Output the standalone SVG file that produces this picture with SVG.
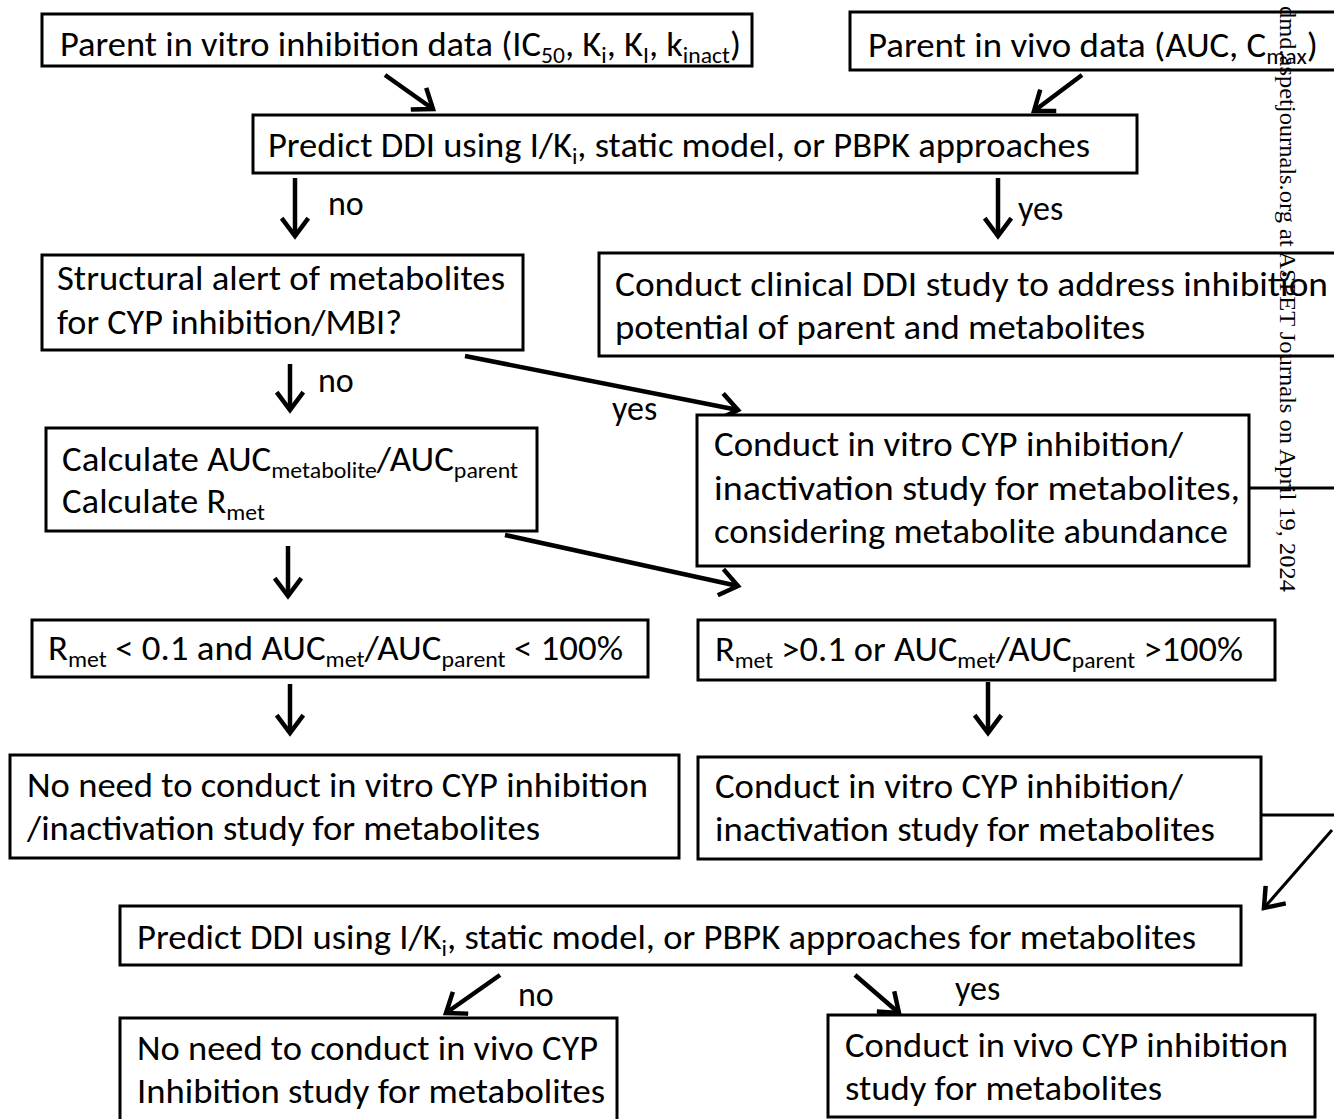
<svg xmlns="http://www.w3.org/2000/svg" width="1334" height="1119" viewBox="0 0 1334 1119">
<style>
.box{fill:#fff;stroke:#000;stroke-width:3}
.t{font-family:Carlito,'Liberation Sans Narrow','Liberation Sans',sans-serif;font-size:34px;fill:#000}
.s{font-size:22px}
.c{stroke:#000;stroke-width:4.5;fill:none}
.c3{stroke:#000;stroke-width:3;fill:none}
.wm{font-family:'Liberation Serif','Times New Roman',serif;font-size:24px;fill:#000}
</style>
<defs>
<marker id="ah" markerUnits="userSpaceOnUse" viewBox="-22 -15 26 30" refX="0" refY="0" markerWidth="26" markerHeight="30" orient="auto">
<path d="M-16,-12 L0,0 L-16,12" stroke="#000" stroke-width="4.5" fill="none" stroke-linecap="square"/>
</marker>
</defs>
<g id="connectors">
<line class="c" x1="385" y1="75" x2="433" y2="109" marker-end="url(#ah)"/>
<line class="c" x1="1082" y1="75" x2="1034" y2="111" marker-end="url(#ah)"/>
<line class="c" x1="295" y1="178" x2="295" y2="236" marker-end="url(#ah)"/>
<line class="c" x1="998" y1="178" x2="998" y2="236" marker-end="url(#ah)"/>
<line class="c" x1="290" y1="364" x2="290" y2="410" marker-end="url(#ah)"/>
<line class="c" x1="465" y1="356" x2="738" y2="410" marker-end="url(#ah)"/>
<line class="c" x1="288" y1="546" x2="288" y2="596" marker-end="url(#ah)"/>
<line class="c" x1="505" y1="535" x2="738" y2="586" marker-end="url(#ah)"/>
<line class="c" x1="290" y1="684" x2="290" y2="733" marker-end="url(#ah)"/>
<line class="c" x1="988" y1="682" x2="988" y2="733" marker-end="url(#ah)"/>
<line class="c3" x1="1249" y1="488" x2="1334" y2="488"/>
<line class="c3" x1="1261" y1="815" x2="1334" y2="815"/>
<line class="c3" x1="1332" y1="830" x2="1264" y2="908" marker-end="url(#ah)"/>
<line class="c" x1="500" y1="975" x2="446" y2="1013" marker-end="url(#ah)"/>
<line class="c" x1="855" y1="975" x2="899" y2="1013" marker-end="url(#ah)"/>
<text class="t" x="328" y="215">no</text>
<text class="t" x="1018" y="220">yes</text>
<text class="t" x="318" y="392">no</text>
<text class="t" x="612" y="420">yes</text>
<text class="t" x="518" y="1006">no</text>
<text class="t" x="955" y="1000">yes</text>
</g>
<g id="n1">
<rect class="box" x="42" y="14" width="710" height="52"/>
<text class="t" x="60" y="56" textLength="681" lengthAdjust="spacingAndGlyphs">Parent in vitro inhibition data (IC<tspan class="s" dy="7">50</tspan><tspan dy="-7">, K</tspan><tspan class="s" dy="7">i</tspan><tspan dy="-7">, K</tspan><tspan class="s" dy="7">I</tspan><tspan dy="-7">, k</tspan><tspan class="s" dy="7">inact</tspan><tspan dy="-7">)</tspan></text>
</g>
<g id="n2">
<rect class="box" x="850" y="12" width="500" height="58"/>
<text class="t" x="868" y="57" textLength="450" lengthAdjust="spacingAndGlyphs">Parent in vivo data (AUC, C<tspan class="s" dy="7">max</tspan><tspan dy="-7">)</tspan></text>
</g>
<g id="n3">
<rect class="box" x="253" y="115" width="884" height="58"/>
<text class="t" x="268" y="157" textLength="822" lengthAdjust="spacingAndGlyphs">Predict DDI using I/K<tspan class="s" dy="7">i</tspan><tspan dy="-7">, static model, or PBPK approaches</tspan></text>
</g>
<g id="n4">
<rect class="box" x="42" y="255" width="481" height="95"/>
<text class="t" x="57" y="290" textLength="448" lengthAdjust="spacingAndGlyphs">Structural alert of metabolites</text>
<text class="t" x="57" y="334" textLength="345" lengthAdjust="spacingAndGlyphs">for CYP inhibition/MBI?</text>
</g>
<g id="n5">
<rect class="box" x="599" y="253" width="750" height="103"/>
<text class="t" x="615" y="296" textLength="713" lengthAdjust="spacingAndGlyphs">Conduct clinical DDI study to address inhibition</text>
<text class="t" x="615" y="339" textLength="530" lengthAdjust="spacingAndGlyphs">potential of parent and metabolites</text>
</g>
<g id="n6">
<rect class="box" x="46" y="428" width="491" height="103"/>
<text class="t" x="62" y="471" textLength="456" lengthAdjust="spacingAndGlyphs">Calculate AUC<tspan class="s" dy="7">metabolite</tspan><tspan dy="-7">/AUC</tspan><tspan class="s" dy="7">parent</tspan></text>
<text class="t" x="62" y="513" textLength="203" lengthAdjust="spacingAndGlyphs">Calculate R<tspan class="s" dy="7">met</tspan></text>
</g>
<g id="n7">
<rect class="box" x="697" y="415" width="552" height="151"/>
<text class="t" x="714" y="456" textLength="469" lengthAdjust="spacingAndGlyphs">Conduct in vitro CYP inhibition/</text>
<text class="t" x="714" y="500" textLength="526" lengthAdjust="spacingAndGlyphs">inactivation study for metabolites,</text>
<text class="t" x="714" y="543" textLength="514" lengthAdjust="spacingAndGlyphs">considering metabolite abundance</text>
</g>
<g id="n8">
<rect class="box" x="32" y="620" width="616" height="57"/>
<text class="t" x="48" y="660" textLength="575" lengthAdjust="spacingAndGlyphs">R<tspan class="s" dy="7">met</tspan><tspan dy="-7"> &lt; 0.1 and AUC</tspan><tspan class="s" dy="7">met</tspan><tspan dy="-7">/AUC</tspan><tspan class="s" dy="7">parent</tspan><tspan dy="-7"> &lt; 100%</tspan></text>
</g>
<g id="n9">
<rect class="box" x="698" y="620" width="577" height="60"/>
<text class="t" x="715" y="661" textLength="528" lengthAdjust="spacingAndGlyphs">R<tspan class="s" dy="7">met</tspan><tspan dy="-7"> &gt;0.1 or AUC</tspan><tspan class="s" dy="7">met</tspan><tspan dy="-7">/AUC</tspan><tspan class="s" dy="7">parent</tspan><tspan dy="-7"> &gt;100%</tspan></text>
</g>
<g id="n10">
<rect class="box" x="10" y="755" width="669" height="103"/>
<text class="t" x="27" y="797" textLength="621" lengthAdjust="spacingAndGlyphs">No need to conduct in vitro CYP inhibition</text>
<text class="t" x="27" y="840" textLength="513" lengthAdjust="spacingAndGlyphs">/inactivation study for metabolites</text>
</g>
<g id="n11">
<rect class="box" x="698" y="757" width="563" height="102"/>
<text class="t" x="715" y="798" textLength="468" lengthAdjust="spacingAndGlyphs">Conduct in vitro CYP inhibition/</text>
<text class="t" x="715" y="841" textLength="500" lengthAdjust="spacingAndGlyphs">inactivation study for metabolites</text>
</g>
<g id="n12">
<rect class="box" x="120" y="906" width="1121" height="59"/>
<text class="t" x="137" y="949" textLength="1059" lengthAdjust="spacingAndGlyphs">Predict DDI using I/K<tspan class="s" dy="7">i</tspan><tspan dy="-7">, static model, or PBPK approaches for metabolites</tspan></text>
</g>
<g id="n13">
<rect class="box" x="120" y="1018" width="497" height="106"/>
<text class="t" x="137" y="1060" textLength="461" lengthAdjust="spacingAndGlyphs">No need to conduct in vivo CYP</text>
<text class="t" x="137" y="1103" textLength="468" lengthAdjust="spacingAndGlyphs">Inhibition study for metabolites</text>
</g>
<g id="n14">
<rect class="box" x="828" y="1015" width="487" height="102"/>
<text class="t" x="845" y="1057" textLength="443" lengthAdjust="spacingAndGlyphs">Conduct in vivo CYP inhibition</text>
<text class="t" x="845" y="1100" textLength="317" lengthAdjust="spacingAndGlyphs">study for metabolites</text>
</g>
<text class="wm" transform="translate(1280,6) rotate(90)" textLength="586" lengthAdjust="spacingAndGlyphs">dmd.aspetjournals.org at ASPET Journals on April 19, 2024</text>
</svg>
